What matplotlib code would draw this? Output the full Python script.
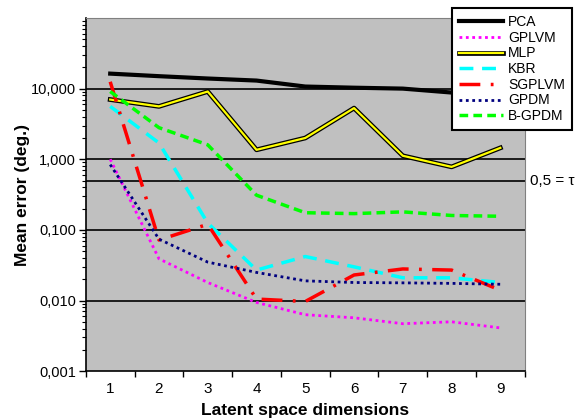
import numpy as np
import matplotlib
matplotlib.use('Agg')
import matplotlib.pyplot as plt
import matplotlib.patheffects as pe
from matplotlib.ticker import FixedLocator, NullFormatter, LogLocator

# 数据
dims = [1, 2, 3, 4, 5, 6, 7, 8, 9]
pca = [16.3, 15.0, 13.9, 13.0, 10.7, 10.3, 10.0, 8.8, 8.2]
gplvm = [1.0, 0.039, 0.018, 0.0094, 0.0063, 0.0057, 0.0047, 0.0050, 0.0041]
mlp = [7.0, 5.6, 9.1, 1.36, 2.0, 5.3, 1.12, 0.78, 1.45]
kbr = [5.6, 1.7, 0.125, 0.027, 0.042, 0.030, 0.021, 0.021, 0.018]
sgplvm = [12.5, 0.072, 0.12, 0.0105, 0.0097, 0.023, 0.028, 0.027, 0.014]
gpdm = [0.84, 0.074, 0.035, 0.025, 0.019, 0.018, 0.0178, 0.0175, 0.017]
bgpdm = [9.1, 2.8, 1.6, 0.31, 0.175, 0.17, 0.18, 0.16, 0.156]

tau = 0.5
y_ticks = [0.001, 0.01, 0.1, 1, 10]
y_labels = ['0,001', '0,010', '0,100', '1,000', '10,000']

plt.rcParams['font.family'] = ['Liberation Sans', 'DejaVu Sans']

fig = plt.figure(figsize=(5.76, 4.18), dpi=100)
ax = fig.add_axes([0.149, 0.112, 0.762, 0.845])
ax.set_facecolor('#C0C0C0')

# 网格线
for t in y_ticks[1:]:
    ax.axhline(t, color='black', lw=1.2, zorder=1)
ax.axhline(tau, color='black', lw=1.2, zorder=1)

ax.plot(dims, pca, color='black', lw=3, label='PCA', zorder=3)
ax.plot(dims, gplvm, color='#FF00FF', lw=2, ls=(0, (1, 1.3)), label='GPLVM', zorder=3)
ax.plot(dims, mlp, color='#FFFF00', lw=1.6, label='MLP', zorder=3,
        path_effects=[pe.Stroke(linewidth=3.4, foreground='black'), pe.Normal()])
ax.plot(dims, kbr, color='#00FFFF', lw=2.5, ls=(0, (4, 2.5)), label='KBR', zorder=3)
ax.plot(dims, sgplvm, color='#FF0000', lw=2.5, ls=(0, (6, 3, 0.8, 3)), label='SGPLVM', zorder=3)
ax.plot(dims, gpdm, color='#000080', lw=2, ls=(0, (1, 1.3)), label='GPDM', zorder=3)
ax.plot(dims, bgpdm, color='#00FF00', lw=2.5, ls=(0, (2.5, 1.5)), label='B-GPDM', zorder=3)

ax.set_yscale('log')
ax.set_ylim(0.001, 100)
ax.set_xlim(0.5, 9.5)
ax.yaxis.set_major_locator(FixedLocator(y_ticks))
ax.set_yticklabels(y_labels)
ax.yaxis.set_minor_locator(LogLocator(base=10, subs=np.arange(2, 10)))
ax.yaxis.set_minor_formatter(NullFormatter())
ax.tick_params(axis='y', which='major', length=5, width=1, labelsize=10.5, direction='out', pad=2)
ax.tick_params(axis='y', which='minor', length=3, width=0.8, direction='out')

# 分类轴：刻度在类别之间
ax.xaxis.set_major_locator(FixedLocator(np.arange(0.5, 10, 1)))
ax.xaxis.set_major_formatter(NullFormatter())
ax.xaxis.set_minor_locator(FixedLocator(dims))
ax.set_xticklabels([str(d) for d in dims], minor=True)
ax.tick_params(axis='x', which='major', length=4, width=1, direction='out')
ax.tick_params(axis='x', which='minor', length=0, labelsize=11, pad=8)

for s in ['top', 'right']:
    ax.spines[s].set_color('#808080')
for s in ['left', 'bottom']:
    ax.spines[s].set_linewidth(1.2)

ax.set_ylabel('Mean error (deg.)', fontsize=12.5, fontweight='bold')
ax.yaxis.set_label_coords(-0.128, 0.5)
ax.set_xlabel('Latent space dimensions', fontsize=12.5, fontweight='bold', labelpad=5)

ax.text(1.012, tau, '0,5 = τ', transform=ax.get_yaxis_transform(), fontsize=11,
        va='center', ha='left', family=['Liberation Sans', 'DejaVu Sans'])

leg = ax.legend(loc='upper left', bbox_to_anchor=(0.834, 1.028), fontsize=10,
                frameon=True, fancybox=False, handlelength=3.2, handletextpad=0.35,
                borderpad=0.5, labelspacing=0.12, borderaxespad=0)
leg.get_frame().set_edgecolor('black')
leg.get_frame().set_linewidth(1.5)
leg.get_frame().set_facecolor('white')
leg.get_frame().set_alpha(1)
leg.set_zorder(5)

fig.savefig('out.png', dpi=100)
